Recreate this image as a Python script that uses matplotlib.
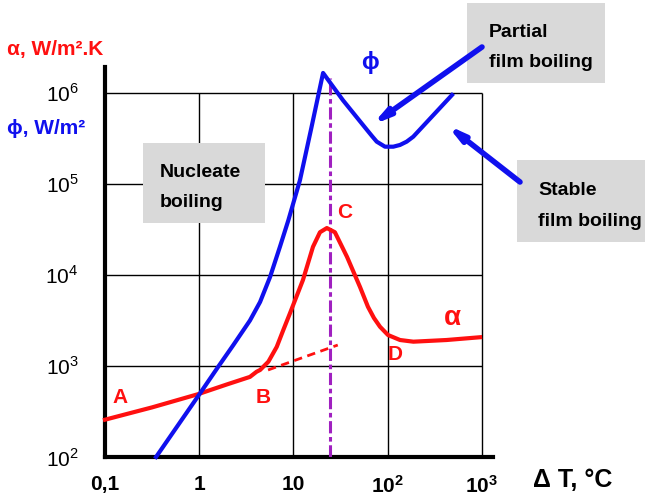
import matplotlib
matplotlib.use("Agg")
import matplotlib.pyplot as plt
from matplotlib.patches import Rectangle

plt.rcParams['font.family'] = ['Liberation Sans', 'DejaVu Sans']
plt.rcParams['mathtext.fontset'] = 'custom'
plt.rcParams['mathtext.rm'] = 'Liberation Sans'
plt.rcParams['mathtext.bf'] = 'Liberation Sans:bold'

# boiling curve data
dT_alpha = [0.1, 0.316, 0.97, 2.0, 3.45, 4.06, 4.42, 5.41, 6.64, 7.80, 9.18, 12.6,
            16.1, 19.1, 22.6, 27.5, 37.0, 50.8, 61.7, 71.4, 82.8, 100.7, 135, 187, 421, 953]
alpha = [257, 351, 490, 631, 759, 865, 904, 1114, 1622, 2489, 3802, 8810,
         20400, 29500, 32800, 29500, 15800, 7380, 4470, 3370, 2700, 2190, 1930, 1850, 1930, 2070]

dT_phi = [0.348, 1.02, 1.59, 2.30, 3.45, 4.42, 5.64, 7.19, 8.81, 11.7, 15.5, 20.6,
          33.5, 60.3, 68.1, 76.4, 93.5, 114.6, 134.9, 158.9, 186.6, 480.8]
phi = [100, 501, 982, 1700, 3160, 5050, 9500, 20500, 39800, 109600, 417000, 1660000,
       832000, 392000, 336000, 292000, 257000, 257000, 268500, 292000, 331000, 950600]

# extrapolation of the A-B line
dT_ext = [5.37, 29.5]
alpha_ext = [904, 1700]

dT_crit = 24.4
crit_top = 1.46e6

grid_x = [1, 10, 100, 1000]
grid_y = [1e3, 1e4, 1e5, 1e6]
xticks = [0.1, 1, 10, 100, 1000]
xlabels = ['0,1', '1', '10', r'$\mathbf{10^2}$', r'$\mathbf{10^3}$']
yticks = [1e2, 1e3, 1e4, 1e5, 1e6]
ylabels = [r'$10^2$', r'$10^3$', r'$10^4$', r'$10^5$', r'$10^6$']

RED = '#ff1010'
BLUE = '#1010ee'
PURPLE = '#a020c0'
GRAY = '#d9d9d9'

W, H = 645, 498
fig = plt.figure(figsize=(W / 100, H / 100), dpi=100)
ax = fig.add_axes([105 / W, (H - 457) / H, (493 - 105) / W, (457 - 67) / H])
ax.set_xscale('log')
ax.set_yscale('log')
ax.set_xlim(0.1, 1309)
ax.set_ylim(100, 1.93e6)


def fx(px):
    return px / W


def fy(py):
    return 1 - py / H


for s in ['top', 'right']:
    ax.spines[s].set_visible(False)
for s in ['left', 'bottom']:
    ax.spines[s].set_linewidth(3)

ax.hlines(grid_y, 0.1, 1000, color='black', lw=1.0, zorder=1)
ax.vlines(grid_x, 100, 1e6, color='black', lw=1.0, zorder=1)

ax.minorticks_off()
ax.set_xticks(xticks)
ax.set_xticklabels(xlabels, fontsize=15, fontweight='bold')
ax.set_yticks(yticks)
ax.set_yticklabels(ylabels, fontsize=15)
ax.tick_params(axis='x', length=0, pad=13)
ax.tick_params(axis='y', length=0, pad=19)

ax.plot([dT_crit, dT_crit], [100, crit_top], color=PURPLE, lw=2.2,
        dashes=(4, 1.2, 1.5, 1.2), zorder=3)
ax.plot(dT_ext, alpha_ext, color=RED, lw=2, dashes=(3, 2), zorder=4)
ax.plot(dT_alpha, alpha, color=RED, lw=3, zorder=5, solid_joinstyle='round', clip_on=False)
ax.plot(dT_phi, phi, color=BLUE, lw=3, zorder=5, solid_joinstyle='round', clip_on=False)

# gray label boxes
boxes = [
    (143, 143, 265, 223, ['Nucleate', 'boiling'], 160),
    (467, 3, 605, 83, ['Partial', 'film boiling'], 489),
    (517, 160, 645, 242, ['Stable', 'film boiling'], 538),
]
for x0, y0, x1, y1, lines, tx in boxes:
    ax.add_patch(Rectangle((fx(x0), fy(y1)), fx(x1) - fx(x0), fy(y0) - fy(y1),
                           transform=fig.transFigure, facecolor=GRAY, edgecolor='none',
                           clip_on=False, zorder=2))
    h = (y1 - y0)
    fig.text(fx(tx), fy(y0 + h * 0.43), lines[0], fontsize=14, fontweight='bold',
             va='baseline', ha='left')
    fig.text(fx(tx), fy(y0 + h * 0.80), lines[1], fontsize=14, fontweight='bold',
             va='baseline', ha='left')

# arrows
arrows = [((482, 47), (372, 125)), ((520, 182), (447, 125))]
for (sx, sy), (ex, ey) in arrows:
    ax.annotate('', xy=(fx(ex), fy(ey)), xytext=(fx(sx), fy(sy)),
                xycoords='figure fraction', textcoords='figure fraction',
                arrowprops=dict(arrowstyle='-|>,head_length=0.9,head_width=0.22',
                                color=BLUE, lw=4, shrinkA=0, shrinkB=0))

# texts
fig.text(fx(7), fy(50), 'α, W/m².K', color=RED, fontsize=15, fontweight='bold', va='center')
fig.text(fx(7), fy(128), 'ϕ, W/m²', color=BLUE, fontsize=15, fontweight='bold', va='center')
fig.text(fx(370), fy(62), 'ϕ', color=BLUE, fontsize=17, fontweight='bold', ha='center', va='center')
fig.text(fx(452), fy(318), 'α', color=RED, fontsize=20, fontweight='bold', ha='center', va='center')
for lab, x, y in [('A', 120, 397), ('B', 263, 397), ('C', 345, 212), ('D', 395, 355)]:
    fig.text(fx(x), fy(y), lab, color=RED, fontsize=15, fontweight='bold', ha='center', va='center')
fig.text(fx(533), fy(480), 'Δ T, °C', fontsize=18, fontweight='bold', ha='left', va='center')

fig.savefig('out.png', dpi=100)
